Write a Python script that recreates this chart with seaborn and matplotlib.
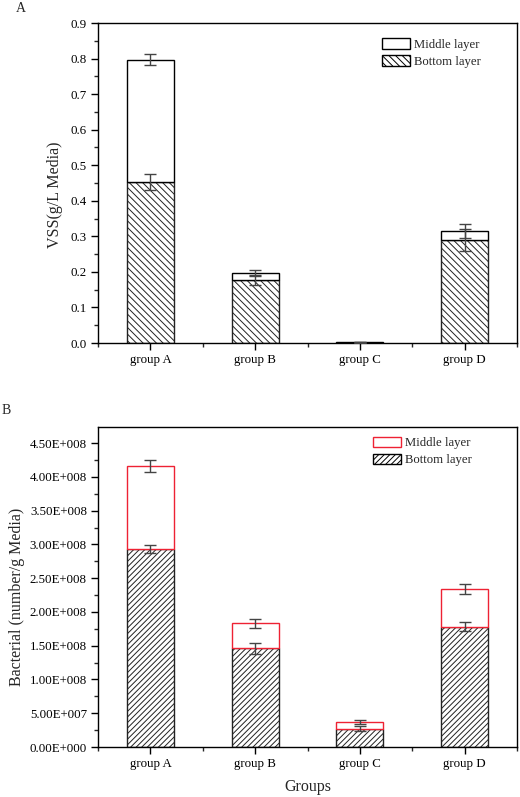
import numpy as np
import pandas as pd
import matplotlib
matplotlib.use("Agg")
import matplotlib.pyplot as plt
import seaborn as sns
from matplotlib.patches import Patch
from matplotlib.ticker import MultipleLocator, FuncFormatter

groups = ["group A", "group B", "group C", "group D"]

# Panel A: VSS (g/L Media)
vss_bottom = [0.452, 0.177, 0.001, 0.290]
vss_bottom_err = [0.022, 0.015, 0.001, 0.030]
vss_total = [0.797, 0.197, 0.002, 0.315]
vss_total_err = [0.016, 0.008, 0.001, 0.020]

# Panel B: Bacterial (number/g Media)
bac_bottom = [2.93e8, 1.46e8, 0.272e8, 1.78e8]
bac_bottom_err = [0.06e8, 0.08e8, 0.04e8, 0.065e8]
bac_total = [4.165e8, 1.83e8, 0.366e8, 2.334e8]
bac_total_err = [0.09e8, 0.06e8, 0.03e8, 0.075e8]

sns.set_theme(style="ticks")
plt.rcParams["font.family"] = ["Liberation Serif", "DejaVu Serif"]
plt.rcParams["hatch.linewidth"] = 0.7
plt.rcParams["xtick.direction"] = "out"
plt.rcParams["ytick.direction"] = "out"

fig = plt.figure(figsize=(5.2, 7.97), dpi=100)
W, H = 520, 797
axA = fig.add_axes([98 / W, 1 - 343 / H, 419 / W, 320 / H])
axB = fig.add_axes([98 / W, 1 - 747 / H, 419 / W, 320 / H])

TICK_FS = 9.3
LABEL_FS = 11.5
LEG_FS = 9.2


def draw_panel(ax, bottom, bottom_err, total, total_err, mid_edge, hatch):
    df = pd.DataFrame({"group": groups, "bottom": bottom, "total": total})
    # bottom layer
    sns.barplot(data=df, x="group", y="bottom", ax=ax, color="white",
                edgecolor="black", linewidth=1.0, width=0.45, hatch=hatch,
                errorbar=None, zorder=2)
    nb = len(ax.patches)
    # middle layer (stacked on bottom)
    sns.barplot(data=df, x="group", y="total", ax=ax, color="white",
                edgecolor=mid_edge, linewidth=1.0, width=0.45,
                errorbar=None, zorder=3)
    for i, p in enumerate(ax.patches[nb:]):
        p.set_y(bottom[i])
        p.set_height(total[i] - bottom[i])
        p.set_facecolor("white")
    for p in ax.patches[:nb]:
        p.set_facecolor("white")
        p.set_edgecolor("#222222")
    x = np.arange(len(groups))
    ax.errorbar(x, bottom, yerr=bottom_err, fmt="none", ecolor="#444444",
                elinewidth=1.0, capsize=4, capthick=1.0, zorder=5)
    ax.errorbar(x, total, yerr=total_err, fmt="none", ecolor="#444444",
                elinewidth=1.0, capsize=4, capthick=1.0, zorder=5)
    ax.set_xlim(-0.5, 3.5)
    ax.set_xlabel("")
    ax.xaxis.set_minor_locator(MultipleLocator(0.5))
    ax.tick_params(axis="both", which="major", length=5, width=1, labelsize=TICK_FS,
                   colors="black", pad=3)
    ax.tick_params(axis="both", which="minor", length=3, width=1)
    for s in ax.spines.values():
        s.set_visible(True)
        s.set_color("black")
        s.set_linewidth(1.0)
    ax.set_facecolor("white")
    ax.grid(False)


hA = "\\\\\\\\\\"
draw_panel(axA, vss_bottom, vss_bottom_err, vss_total, vss_total_err, "black", hA)
axA.set_ylim(0, 0.9)
axA.yaxis.set_major_locator(MultipleLocator(0.1))
axA.yaxis.set_minor_locator(MultipleLocator(0.05))
axA.yaxis.set_major_formatter(FuncFormatter(lambda v, p: f"{v:.1f}"))
axA.set_ylabel("VSS(g/L Media)", fontsize=LABEL_FS)
axA.yaxis.label.set_va("center")
axA.yaxis.set_label_coords((55 - 98) / 419, 0.4625)
axA.legend(handles=[Patch(facecolor="white", edgecolor="black", label="Middle layer"),
                    Patch(facecolor="white", edgecolor="black", hatch=hA, label="Bottom layer")],
           loc="upper left", bbox_to_anchor=(0.678, 0.953), frameon=False, fontsize=LEG_FS,
           handlelength=2.2, handleheight=0.9, labelspacing=0.35, handletextpad=0.3,
           borderaxespad=0, borderpad=0)


def sci_fmt(v, p):
    if v == 0:
        return "0.00E+000"
    exp = int(np.floor(np.log10(abs(v))))
    mant = v / 10 ** exp
    return f"{mant:.2f}E+{exp:03d}"


hB = "//////"
draw_panel(axB, bac_bottom, bac_bottom_err, bac_total, bac_total_err, "#ee2233", hB)
axB.set_ylim(0, 4.74e8)
axB.yaxis.set_major_locator(MultipleLocator(0.5e8))
axB.yaxis.set_minor_locator(MultipleLocator(0.25e8))
axB.yaxis.set_major_formatter(FuncFormatter(sci_fmt))
axB.yaxis.get_offset_text().set_visible(False)
axB.set_ylabel("Bacterial (number/g Media)", fontsize=LABEL_FS)
axB.yaxis.label.set_va("center")
axB.yaxis.set_label_coords((17 - 98) / 419, 0.47)
axB.set_xlabel("Groups", fontsize=LABEL_FS)
axB.xaxis.label.set_va("center")
axB.xaxis.set_label_coords(0.5, (747 - 787) / 320)
axB.legend(handles=[Patch(facecolor="white", edgecolor="#ee2233", label="Middle layer"),
                    Patch(facecolor="white", edgecolor="black", hatch=hB, label="Bottom layer")],
           loc="upper left", bbox_to_anchor=(0.656, 0.97), frameon=False, fontsize=LEG_FS,
           handlelength=2.2, handleheight=0.9, labelspacing=0.35, handletextpad=0.3,
           borderaxespad=0, borderpad=0)

fig.text(16 / W, 1 - 8 / H, "A", fontsize=10, va="center", ha="left")
fig.text(2 / W, 1 - 411 / H, "B", fontsize=10, va="center", ha="left")

fig.savefig("out.png", dpi=100, facecolor="white")
